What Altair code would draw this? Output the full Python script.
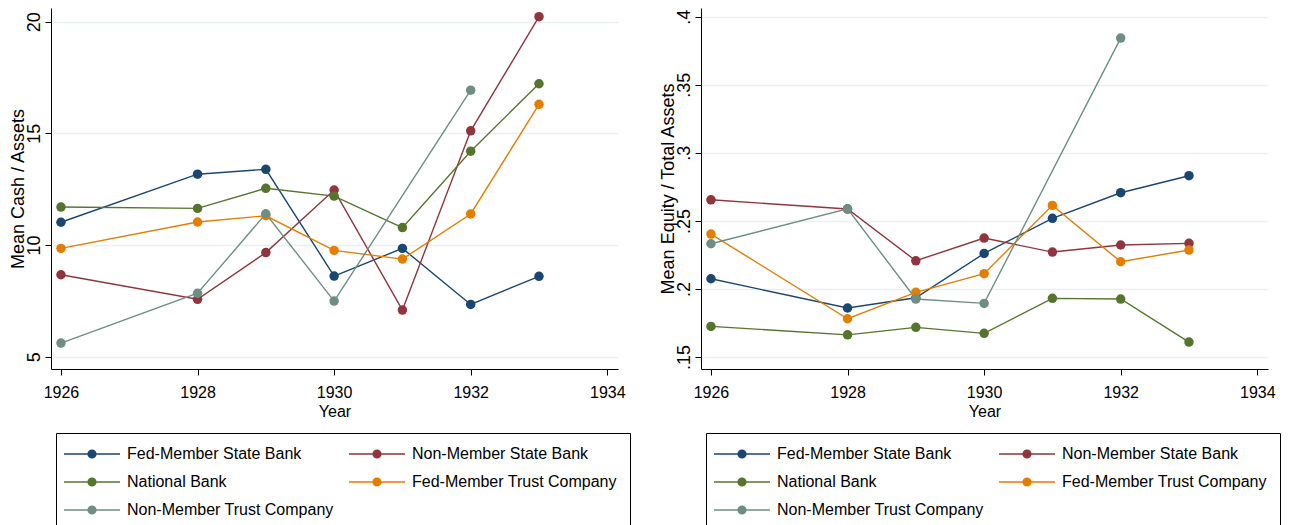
import altair as alt
import pandas as pd

years = [1926, 1928, 1929, 1930, 1931, 1932, 1933]
series = ["Fed-Member State Bank", "Non-Member State Bank", "National Bank",
          "Fed-Member Trust Company", "Non-Member Trust Company"]
colors = ["#1a476f", "#90353b", "#55752f", "#e37e00", "#6e8e84"]
# legend reading order (two columns, filled top to bottom)
legend_order = [0, 2, 4, 1, 3]

# Mean Cash / Assets
cash_fed_state = [11.02, 13.17, 13.39, 8.61, 9.85, 7.34, 8.60]
cash_nonmem_state = [8.67, 7.57, 9.66, 12.46, 7.09, 15.11, 20.22]
cash_national = [11.70, 11.64, 12.54, 12.19, 10.78, 14.20, 17.22]
cash_fed_trust = [9.85, 11.03, 11.31, 9.76, 9.37, 11.39, 16.30]
cash_nonmem_trust = [5.61, 7.84, 11.40, 7.49, None, 16.93, None]

# Mean Equity / Total Assets
eq_fed_state = [0.2075, 0.1860, 0.1935, 0.2261, 0.2519, 0.2707, 0.2832]
eq_nonmem_state = [0.2655, 0.2587, 0.2207, 0.2374, 0.2271, 0.2323, 0.2335]
eq_national = [0.1725, 0.1663, 0.1718, 0.1674, 0.1931, 0.1926, 0.1610]
eq_fed_trust = [0.2403, 0.1781, 0.1975, 0.2112, 0.2614, 0.2200, 0.2286]
eq_nonmem_trust = [0.2332, 0.2589, 0.1926, 0.1894, None, 0.3843, None]

x_ticks = [1926, 1928, 1930, 1932, 1934]
cash_ticks = [5, 10, 15, 20]
eq_ticks = [0.15, 0.2, 0.25, 0.3, 0.35, 0.4]


def make_df(lists):
    rows = []
    for name, vals in zip(series, lists):
        for yr, v in zip(years, vals):
            if v is not None:
                rows.append({"Year": yr, "Group": name, "Value": v})
    return pd.DataFrame(rows)


cash_df = make_df([cash_fed_state, cash_nonmem_state, cash_national, cash_fed_trust, cash_nonmem_trust])
eq_df = make_df([eq_fed_state, eq_nonmem_state, eq_national, eq_fed_trust, eq_nonmem_trust])

FONT = "Liberation Sans, Arial, sans-serif"
SYMBOL = "M-5.6,0L5.6,0M0.77,0A0.77,0.77,0,1,1,-0.77,0A0.77,0.77,0,1,1,0.77,0Z"

dom = [series[i] for i in legend_order]
rng = [colors[i] for i in legend_order]


def panel(df, ydomain, yvalues, ytitle, label_expr):
    x = alt.X("Year:Q",
              scale=alt.Scale(domain=[1925.854, 1934.157], nice=False, zero=False),
              axis=alt.Axis(values=x_ticks, format="d", title="Year", grid=False,
                            domainColor="black", tickColor="black", tickSize=6,
                            labelFont=FONT, labelFontSize=16, labelColor="black",
                            labelPadding=9, titleFont=FONT, titleFontSize=16,
                            titleFontWeight="normal", titleColor="black", titlePadding=3))
    y = alt.Y("Value:Q",
              scale=alt.Scale(domain=ydomain, nice=False, zero=False),
              axis=alt.Axis(values=yvalues, title=ytitle, grid=True, gridColor="#e8f0f1",
                            gridWidth=1.5, domainColor="black", tickColor="black", tickSize=6,
                            labelAngle=270, labelAlign="center", labelBaseline="alphabetic",
                            labelPadding=6, labelExpr=label_expr,
                            labelFont=FONT, labelFontSize=18, labelColor="black",
                            titleFont=FONT, titleFontSize=18, titleFontWeight="normal",
                            titleColor="black", titlePadding=-2))
    color = alt.Color("Group:N",
                      scale=alt.Scale(domain=dom, range=rng),
                      legend=alt.Legend(title=None, orient="none", legendX=5, legendY=425,
                                        columns=2, symbolType=SYMBOL, symbolSize=100,
                                        symbolStrokeWidth=1.5, symbolOffset=15,
                                        labelOffset=27, labelFont=FONT, labelFontSize=16,
                                        labelColor="black", labelLimit=400,
                                        strokeColor="black", fillColor="white",
                                        padding=13, rowPadding=12, columnPadding=12))
    base = alt.Chart(df)
    line = base.mark_line(strokeWidth=1.4).encode(x=x, y=y, color=color, order="Year:Q")
    pts = base.mark_point(filled=True, size=90, opacity=1).encode(x=x, y=y, color=color)
    return alt.layer(line, pts).properties(width=567, height=361)


left = panel(cash_df, [4.45, 20.61], cash_ticks, "Mean Cash / Assets", "format(datum.value, 'd')")
right = panel(eq_df, [0.1412, 0.4064], eq_ticks, "Mean Equity / Total Assets",
              "replace(format(datum.value, '~g'), '0.', '.')")

chart = alt.hconcat(left, right, spacing=83, bounds="flush").resolve_scale(
    color="independent").resolve_legend(color="independent").configure_view(
    strokeWidth=0).properties(padding={"left": 0, "top": 0, "right": 0, "bottom": 0},
                              background="white")

chart.save("out.html", embed_options={"renderer": "svg", "actions": False})
